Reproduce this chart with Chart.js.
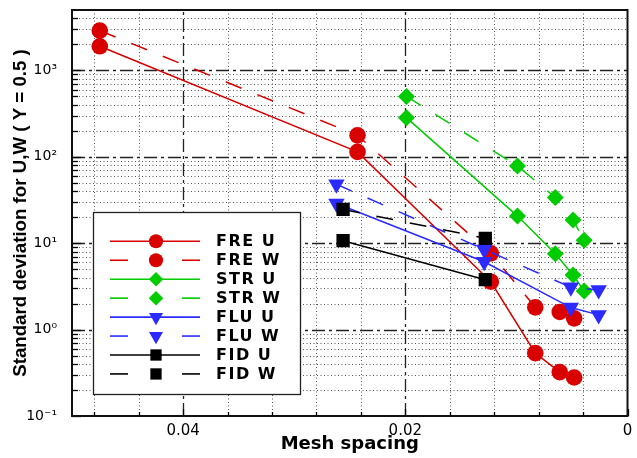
<!DOCTYPE html>
<html>
<head>
<meta charset="utf-8">
<script src="https://cdn.jsdelivr.net/npm/chart.js@4/dist/chart.umd.min.js"></script>
<style>
html,body{margin:0;padding:0;background:#fff;}
canvas{display:block;}
</style>
</head>
<body>
<canvas id="c" width="637" height="458"></canvas>
<script>
// ---- data ----
const xFRE = [0.0475, 0.0243, 0.0123, 0.0083, 0.0061, 0.0048];
const freU = [1900, 114, 3.58, 0.534, 0.322, 0.279];
const freW = [2890, 177, 7.63, 1.81, 1.60, 1.35];

const xSTR = [0.0199, 0.0099, 0.0065, 0.0049, 0.0039];
const strU = [284, 20.6, 7.55, 4.28, 2.80];
const strW = [500, 78.3, 33.8, 18.5, 10.8];

const xFLU = [0.0262, 0.0129, 0.0051, 0.0026];
const fluU = [28.8, 6.10, 1.80, 1.48];
const fluW = [48.1, 8.48, 3.09, 2.87];

const xFID = [0.0256, 0.0128];
const fidU = [10.7, 3.78];
const fidW = [24.6, 11.4];

const seriesLabels = ['FRE U','FRE W','STR U','STR W','FLU U','FLU W','FID U','FID W'];
const xTickValues = [0, 0.02, 0.04];
const xTickLabels = ['0', '0.02', '0.04'];
const yTickValues = [0.1, 1, 10, 100, 1000];
const yTickLabels = ['10\u207B\u00B9', '10\u2070', '10\u00B9', '10\u00B2', '10\u00B3'];

const RED = '#d90000', GREEN = '#00cc00', BLUE = '#2b2bff', BLACK = '#000000';
const DASH = [17, 17];

function pts(xs, ys){ return xs.map((x,i)=>({x:x, y:ys[i]})); }

const styles = [
  {c:RED, d:[], s:'circle', r:8.3, rot:0},
  {c:RED, d:DASH, s:'circle', r:8.3, rot:0},
  {c:GREEN, d:[], s:'rectRot', r:8.5, rot:0},
  {c:GREEN, d:DASH, s:'rectRot', r:8.5, rot:0},
  {c:BLUE, d:[], s:'triangle', r:9.5, rot:180},
  {c:BLUE, d:DASH, s:'triangle', r:9.5, rot:180},
  {c:BLACK, d:[], s:'rect', r:9.4, rot:0},
  {c:BLACK, d:DASH, s:'rect', r:9.4, rot:0}
];
const dataSets = [pts(xFRE,freU), pts(xFRE,freW), pts(xSTR,strU), pts(xSTR,strW),
                  pts(xFLU,fluU), pts(xFLU,fluW), pts(xFID,fidU), pts(xFID,fidW)];

const datasets = dataSets.map((d,i)=>({
  label: seriesLabels[i],
  data: d,
  showLine: true,
  borderColor: styles[i].c,
  backgroundColor: styles[i].c,
  borderWidth: 1.5,
  borderDash: styles[i].d,
  pointStyle: styles[i].s,
  pointRadius: styles[i].r,
  pointRotation: styles[i].rot,
  pointBackgroundColor: styles[i].c,
  pointBorderColor: styles[i].c,
  pointBorderWidth: 0,
  order: dataSets.length - i
}));

function drawGridLine(ctx, x1, y1, x2, y2){
  ctx.beginPath(); ctx.moveTo(x1,y1); ctx.lineTo(x2,y2); ctx.stroke();
}

const gridPlugin = {
  id: 'tecGrid',
  beforeDatasetsDraw(chart){
    const {ctx, chartArea:a, scales:{x, y}} = chart;
    ctx.save();
    // minor dotted vertical
    ctx.strokeStyle = '#555'; ctx.lineWidth = 1; ctx.setLineDash([1, 2.5]);
    for (let k = 1; k <= 12; k++){
      const v = k * 0.004;
      if (k % 5 === 0) continue;
      const px = Math.round(x.getPixelForValue(v)) + 0.5;
      drawGridLine(ctx, px, a.top, px, a.bottom);
    }
    // minor dotted horizontal
    for (let e = -1; e <= 3; e++){
      for (let m = 2; m <= 9; m++){
        const v = m * Math.pow(10, e);
        if (v >= 5000) continue;
        const py = Math.round(y.getPixelForValue(v)) + 0.5;
        drawGridLine(ctx, a.left, py, a.right, py);
      }
    }
    // major dash-dot
    ctx.strokeStyle = '#222'; ctx.lineWidth = 1.3; ctx.setLineDash([13, 4, 3, 4]);
    [0.02, 0.04].forEach(v=>{
      const px = Math.round(x.getPixelForValue(v)) + 0.5;
      drawGridLine(ctx, px, a.bottom, px, a.top);
    });
    [1, 10, 100, 1000].forEach(v=>{
      const py = Math.round(y.getPixelForValue(v)) + 0.5;
      drawGridLine(ctx, a.left, py, a.right, py);
    });
    ctx.restore();
  },
  afterDatasetsDraw(chart){
    const {ctx, chartArea:a, scales:{x, y}} = chart;
    ctx.save();
    ctx.setLineDash([]);
    ctx.strokeStyle = '#000'; ctx.lineWidth = 1.3;
    // bottom ticks
    for (let k = 0; k <= 12; k++){
      const v = k * 0.004;
      const px = Math.round(x.getPixelForValue(v)) + 0.5;
      const len = (k % 5 === 0) ? 7 : 4;
      drawGridLine(ctx, px, a.bottom, px, a.bottom - len);
    }
    // left ticks
    for (let e = -1; e <= 3; e++){
      for (let m = 1; m <= 9; m++){
        const v = m * Math.pow(10, e);
        if (v >= 5000) continue;
        const py = Math.round(y.getPixelForValue(v)) + 0.5;
        drawGridLine(ctx, a.left, py, a.left + (m === 1 ? 9 : 6), py);
      }
    }
    // frame
    ctx.lineWidth = 2; ctx.strokeStyle = '#111';
    ctx.strokeRect(a.left, a.top, a.right - a.left, a.bottom - a.top);
    ctx.restore();
  }
};

function drawMarker(ctx, shape, cx, cy, r){
  ctx.beginPath();
  if (shape === 'circle'){
    ctx.arc(cx, cy, r, 0, Math.PI*2);
  } else if (shape === 'rectRot'){
    ctx.moveTo(cx, cy - r); ctx.lineTo(cx + r, cy); ctx.lineTo(cx, cy + r); ctx.lineTo(cx - r, cy); ctx.closePath();
  } else if (shape === 'triangle'){
    const w = r * Math.sqrt(3) / 2;
    ctx.moveTo(cx - w, cy - r/2); ctx.lineTo(cx + w, cy - r/2); ctx.lineTo(cx, cy + r); ctx.closePath();
  } else {
    const s = r * Math.SQRT1_2;
    ctx.rect(cx - s, cy - s, 2*s, 2*s);
  }
  ctx.fill();
}

const legendPlugin = {
  id: 'tecLegend',
  afterDraw(chart){
    const ctx = chart.ctx;
    ctx.save();
    const bx = 93, by = 212, bw = 207, bh = 182;
    ctx.fillStyle = '#fff'; ctx.fillRect(bx, by, bw, bh);
    ctx.strokeStyle = '#222'; ctx.lineWidth = 1.3; ctx.setLineDash([]);
    ctx.strokeRect(bx + 0.5, by + 0.5, bw, bh);
    chart.data.datasets.forEach((ds, i)=>{
      const yy = 241.3 + i * 18.95;
      ctx.strokeStyle = ds.borderColor; ctx.lineWidth = 1.6; ctx.setLineDash([]);
      if (ds.borderDash && ds.borderDash.length){
        drawGridLine(ctx, 110, yy, 128, yy);
        drawGridLine(ctx, 182, yy, 200, yy);
      } else {
        drawGridLine(ctx, 110, yy, 200, yy);
      }
      ctx.fillStyle = ds.borderColor;
      const sc = ds.pointRadius * 0.85;
      drawMarker(ctx, ds.pointStyle, 156, yy, sc);
      ctx.fillStyle = '#000';
      ctx.font = 'bold 16px "DejaVu Sans"';
      try { ctx.letterSpacing = '1.5px'; } catch(e){}
      ctx.textBaseline = 'middle'; ctx.textAlign = 'left';
      ctx.fillText(ds.label, 216, yy + 1);
      try { ctx.letterSpacing = '0px'; } catch(e){}
    });
    ctx.restore();
  }
};

new Chart(document.getElementById('c'), {
  type: 'scatter',
  data: { datasets: datasets },
  options: {
    responsive: false,
    animation: false,
    devicePixelRatio: 1,
    layout: { padding: { top: 10, right: 3, left: 0, bottom: 0 } },
    plugins: { legend: { display: false }, tooltip: { enabled: false } },
    scales: {
      x: {
        type: 'linear', reverse: true, min: 0, max: 0.05,
        afterBuildTicks: s => { s.ticks = xTickValues.map(v=>({value:v})); },
        afterFit: s => { s.height = 42; s.paddingLeft = 0; s.paddingRight = 0; s.paddingTop = 0; s.paddingBottom = 0; },
        grid: { display: false, drawTicks: false },
        border: { display: false },
        ticks: {
          padding: 6, color: '#000', maxRotation: 0, autoSkip: false,
          font: { family: '"DejaVu Sans"', size: 15 },
          callback: (v, i) => xTickLabels[xTickValues.indexOf(v)]
        },
        title: {
          display: true, text: 'Mesh spacing', color: '#000',
          font: { family: '"DejaVu Sans"', size: 18, weight: 'bold' },
          padding: { top: 0, bottom: 3 }
        }
      },
      y: {
        type: 'logarithmic', min: 0.1, max: 5000,
        afterBuildTicks: s => { s.ticks = yTickValues.map(v=>({value:v})); },
        afterFit: s => { s.width = 72; s.paddingTop = 0; s.paddingBottom = 0; s.paddingLeft = 0; s.paddingRight = 0; },
        grid: { display: false, drawTicks: false },
        border: { display: false },
        ticks: {
          padding: 15, color: '#000', autoSkip: false,
          font: { family: '"DejaVu Sans"', size: 14 },
          callback: (v) => yTickLabels[yTickValues.indexOf(v)]
        },
        title: {
          display: true, text: 'Standard deviation for U,W ( Y = 0.5 )', color: '#000',
          font: { family: '"Liberation Sans"', size: 18.7, weight: 'bold' },
          padding: { top: 10, bottom: 0 }
        }
      }
    }
  },
  plugins: [gridPlugin, legendPlugin]
});
</script>
</body>
</html>
